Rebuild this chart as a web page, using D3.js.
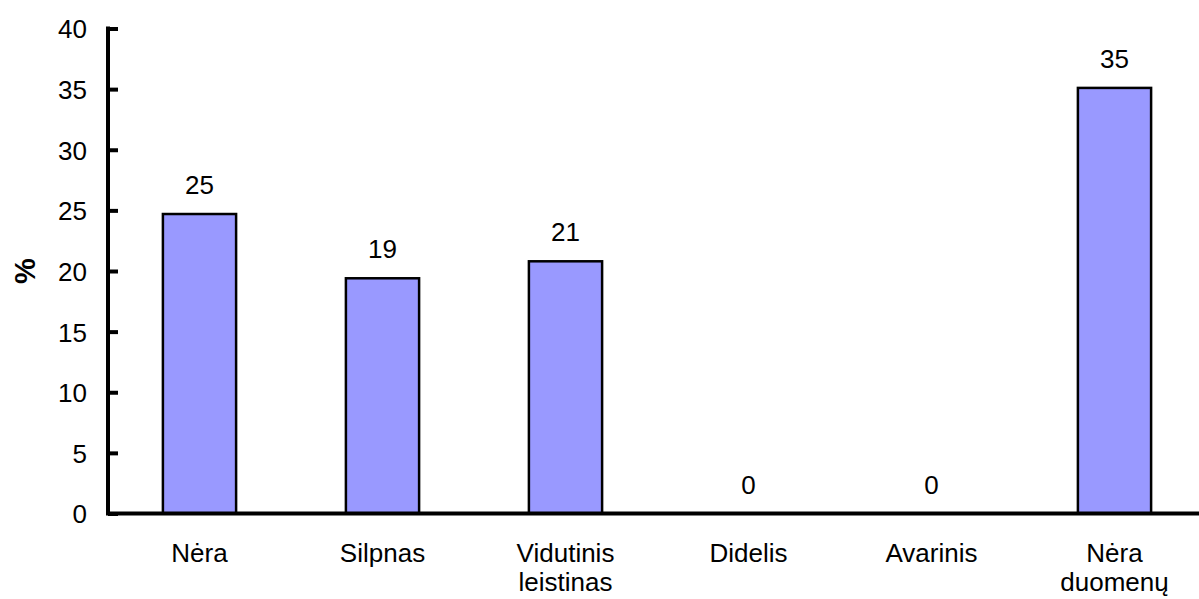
<!DOCTYPE html>
<html>
<head>
<meta charset="utf-8">
<script src="https://cdn.jsdelivr.net/npm/d3@7"></script>
<style>
  html, body { margin: 0; padding: 0; background: #fff; }
  svg { display: block; }
  text { font-family: "Liberation Sans", Arial, sans-serif; fill: #000; }
</style>
</head>
<body>
<svg id="chart" width="1199" height="599"></svg>
<script>
// Categories (multi-line labels split on "\n") and their shares in percent
const categories = ["Nėra", "Silpnas", "Vidutinis\nleistinas", "Didelis", "Avarinis", "Nėra\nduomenų"];
const values = [24.7, 19.4, 20.8, 0, 0, 35.1];
const yTicks = [0, 5, 10, 15, 20, 25, 30, 35, 40];
const yTitle = "%";

const svg = d3.select("#chart");
const plotLeft = 108, plotTop = 28.5, plotBottom = 513.5;
const fontSize = "26px";

const x = d3.scaleBand()
  .domain(categories)
  .range([plotLeft, plotLeft + 6 * 183])
  .paddingInner(0.6)
  .paddingOuter(0.3);

const y = d3.scaleLinear().domain([0, 40]).range([plotBottom, plotTop]);

// Bars
svg.append("g").selectAll("rect")
  .data(values)
  .join("rect")
  .attr("x", (d, i) => x(categories[i]))
  .attr("y", d => y(d))
  .attr("width", x.bandwidth())
  .attr("height", d => y(0) - y(d))
  .attr("fill", "#9999ff")
  .attr("stroke", "#000")
  .attr("stroke-width", 2.5);

// Value labels above bars
const fmt = d3.format(".0f");
svg.append("g").selectAll("text")
  .data(values)
  .join("text")
  .attr("x", (d, i) => x(categories[i]) + x.bandwidth() / 2)
  .attr("y", d => y(d) - 20)
  .attr("text-anchor", "middle")
  .style("font-size", fontSize)
  .text(d => fmt(d));

// Y axis with inward ticks
const yAxis = d3.axisLeft(y)
  .tickValues(yTicks)
  .tickSize(-10)
  .tickPadding(21)
  .tickFormat(d3.format("d"));
const gy = svg.append("g").attr("transform", `translate(${plotLeft},0)`).call(yAxis);
gy.select(".domain").remove();
gy.selectAll(".tick line").attr("stroke", "#000").attr("stroke-width", 4);
gy.selectAll(".tick text")
  .attr("dy", "0.36em")
  .style("font-size", fontSize)
  .style("font-family", "'Liberation Sans', Arial, sans-serif");
gy.append("line")
  .attr("x1", 0).attr("x2", 0)
  .attr("y1", y(40) - 2).attr("y2", y(0))
  .attr("stroke", "#000").attr("stroke-width", 4);

// X axis baseline
svg.append("line")
  .attr("x1", plotLeft - 2).attr("x2", 1199)
  .attr("y1", y(0)).attr("y2", y(0))
  .attr("stroke", "#000").attr("stroke-width", 4);

// Category labels
const cat = svg.append("g").selectAll("text")
  .data(categories)
  .join("text")
  .attr("x", d => x(d) + x.bandwidth() / 2)
  .attr("y", 562)
  .attr("text-anchor", "middle")
  .style("font-size", fontSize);
cat.each(function (d) {
  const t = d3.select(this);
  d.split("\n").forEach((line, i) => {
    t.append("tspan")
      .attr("x", t.attr("x"))
      .attr("dy", i === 0 ? 0 : 29)
      .text(line);
  });
});

// Y axis title
svg.append("text")
  .attr("transform", `translate(35,${(plotTop + plotBottom) / 2}) rotate(-90)`)
  .attr("text-anchor", "middle")
  .style("font-size", "29px")
  .style("font-weight", "bold")
  .text(yTitle);
</script>
</body>
</html>
